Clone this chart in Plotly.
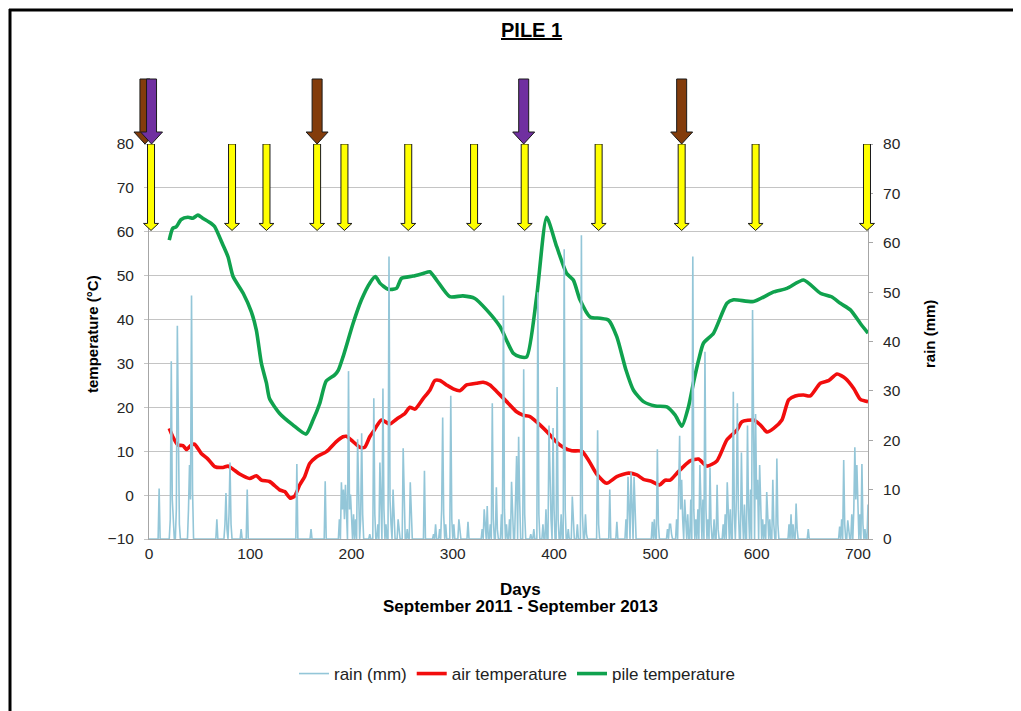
import plotly.graph_objects as go

# ---------------- data ----------------
# days since start of monitoring (September 2011)
air_day = [20, 23.5, 28.5, 33.5, 37, 41.7, 45, 51.6, 58.2, 64.8, 73, 78, 83, 89.5, 99.4, 106, 111,
           119, 129, 134, 139.6, 143.9, 148.8, 153.7, 158.7, 165.3, 175.2, 185, 191.6, 194.9, 201.5,
           208.1, 213, 218, 221.3, 229.6, 237.8, 244.4, 252.7, 257.6, 262.6, 270.7, 277.3, 282.3,
           287.2, 293.8, 300.4, 307, 313.6, 323.5, 330, 336.7, 343.3, 353.2, 363, 369.6, 376.2,
           386.1, 396, 401, 409, 417.4, 427.3, 433.9, 442.1, 452, 461.9, 473.4, 481.7, 488.2,
           496.5, 504.1, 509.7, 514.6, 521.3, 527.8, 534.4, 542.6, 550.9, 560.8, 570.7, 580.6,
           585.5, 597, 603.6, 610.2, 616.8, 625, 631.6, 638.2, 646.4, 653, 662.9, 671.1, 679.4,
           687.6, 695.9, 702.5, 710]
air_temp = [15.2, 13.3, 11.4, 11.3, 10.4, 11.4, 11.6, 9.5, 8.2, 6.5, 6.3, 6.6, 5.9, 4.8, 3.8, 4.4, 3.4,
            3.1, 1.2, 0.8, -0.7, -0.2, 2.3, 4.2, 7.2, 8.7, 9.9, 12.2, 13.3, 13.4, 12.2,
            10.9, 10.9, 13.3, 14.4, 17.1, 16.2, 17.3, 18.6, 20.0, 19.6, 22.0, 23.9, 26.1,
            26.1, 25.1, 24.2, 23.8, 25.1, 25.5, 25.7, 25.1, 23.6, 21.3, 19.0, 18.2, 17.9,
            16.0, 13.7, 12.4, 10.9, 10.1, 10.0, 8.0, 4.8, 2.7, 4.2, 5.0, 4.6, 3.6,
            3.1, 2.3, 3.4, 3.4, 5.0, 6.5, 7.8, 8.2, 6.6, 7.8, 12.6, 14.8,
            16.7, 17.1, 16.0, 14.4, 15.2, 17.1, 21.7, 22.6, 22.8, 22.6, 25.5, 26.1, 27.6,
            26.6, 24.3, 21.8, 21.3]

pile_day = [20, 23.5, 26.8, 31.8, 38.4, 43.3, 48.3, 53, 61.5, 64.8, 73, 78, 83, 93, 101, 106, 111,
            116, 119, 129, 142, 155, 162, 168.6, 175, 183.4, 187, 191.6, 201.5, 209.8, 218, 223.6,
            228, 236, 244.4, 249.4, 260.8, 270.7, 277.3, 284, 297, 310, 321.8, 333.4, 346.6,
            359.7, 366.3, 373, 382.8, 392.7, 402.6, 412.5, 419, 425.6, 435.5, 445.4, 453.6,
            461.9, 471, 478.4, 488.3, 500, 511.4, 519.6, 526.2, 532.7, 538, 543, 547.5, 557.5,
            570.7, 577.2, 597, 616.8, 630, 646.4, 663, 674, 682.7, 692.6, 702.5, 710]
pile_temp = [58.1, 60.8, 61.1, 62.8, 63.3, 63.1, 63.8, 63.1, 61.9, 61.2, 57.0, 54.3, 49.8, 46.0, 41.8, 37.6, 30.0,
             25.5, 22.0, 18.6, 16.0, 13.9, 17.1, 20.9, 26.0, 27.4, 28.5, 31.5, 39.1, 44.5, 48.3, 49.8,
             48.3, 46.9, 47.1, 49.4, 49.9, 50.5, 50.9, 49.0, 45.2, 45.4, 44.8, 42.2, 38.4,
             32.3, 31.5, 31.5, 45.2, 63.3, 56.6, 50.5, 49.0, 44.5, 40.6, 40.3, 39.9,
             36.1, 28.5, 23.9, 21.3, 20.3, 20.1, 18.2, 15.7, 20.1, 26.0, 31.0, 34.6, 36.9,
             43.7, 44.5, 44.1, 46.3, 47.1, 49.0, 46.0, 45.2, 43.7, 42.2, 39.1, 36.9]

# daily rainfall: only rainy days listed, all other days are dry (0 mm)
rain_event_day = [10, 21, 22, 23, 24, 27, 28, 29, 30, 39, 40, 41, 42, 43,
                  67, 75, 76, 77, 79, 80, 81, 91, 97, 146, 160, 174,
                  188, 190, 191, 192, 193, 194, 195, 197, 198, 199, 200, 202, 204, 206, 207, 209, 210, 211,
                  218, 222, 223, 226, 228, 229, 231, 232, 234, 237, 238, 239, 241, 242, 246, 247,
                  251, 252, 255, 258, 259, 272, 281, 283, 287, 289, 290, 291, 293, 298, 299, 301,
                  306, 307, 315, 329, 331, 332, 334, 337, 339, 340, 343, 344, 348, 350, 351, 353,
                  356, 358, 359, 362, 363, 365, 366, 370, 371, 377, 380, 384, 385,
                  389, 392, 395, 396, 397, 399, 400, 403, 404, 407, 410, 411, 414, 418, 419, 423,
                  427, 428, 431, 432, 443, 444, 455, 462, 471, 473, 474, 476, 477, 479, 480,
                  497, 499, 502, 503, 512, 514, 515, 516, 521, 523, 524, 525, 526, 527, 529, 530, 532,
                  535, 537, 538, 540, 542, 544, 545, 547, 549, 550, 552, 554, 555, 558, 561, 562,
                  567, 569, 571, 572, 574, 577, 578, 580, 581, 582, 585, 586, 588, 591, 592, 594,
                  596, 597, 599, 600, 601, 603, 604, 606, 608, 610, 611, 613, 616, 617, 620, 621,
                  632, 634, 636, 639, 640, 651, 682, 684, 686, 687, 690, 691, 694, 696, 697, 698,
                  699, 700, 702, 704, 705, 707, 710]
rain_event_mm = [10.2, 4, 36, 8, 2, 6, 43.2, 12, 3, 6, 15, 8, 49.3, 10,
                 4, 3, 9.3, 2, 5, 15.5, 3, 2, 10, 15.2, 2, 11.7,
                 4, 11.5, 6, 10, 4, 11, 3, 34, 6, 9, 3, 5, 4, 20.2, 6, 4, 21.4, 5,
                 1, 28.5, 5, 3, 15.5, 4, 30.5, 6, 3, 57.2, 8, 3, 10, 3, 4, 2,
                 18.4, 4, 2, 11.5, 3, 13.8, 1, 3, 2, 6, 24.6, 5, 3, 29, 4, 3,
                 4, 1, 3.5, 2, 6, 3, 6.7, 3, 27.5, 4, 10.5, 2, 5, 49.3, 6, 3,
                 4, 11.6, 3, 10, 16.8, 20.7, 8, 34.4, 5, 1, 2, 50, 5,
                 3, 6, 23, 9, 4, 22.5, 6, 30.8, 4, 5, 58.7, 6, 2, 8.6, 2, 3,
                 61.5, 5, 5, 1, 22, 3, 10, 3.5, 4, 12.6, 6, 13.5, 5, 12.6, 3,
                 3.5, 4, 18.2, 3, 2, 3, 3, 1, 4, 10, 20.9, 6, 12, 4, 8, 3, 5,
                 8, 57.2, 6, 4, 6, 15, 5, 8, 37.9, 6, 4, 14.5, 3, 4, 11, 2,
                 3, 5, 11.5, 4, 6, 29.8, 5, 8, 27.5, 6, 17.5, 5, 7, 23, 6, 10,
                 46.4, 12, 25.3, 8, 12, 15, 5, 4, 3, 9.5, 2, 4, 12, 3, 16.3, 3,
                 3, 5, 3, 7.2, 2, 2, 2.5, 4, 16, 3, 3.8, 2, 5, 6, 18.6, 8,
                 15, 4, 5, 15.2, 3, 2, 7]

# management events (days): turning / watering markers drawn as arrows
yellow_arrow_days = [2, 82, 116, 166, 193, 256, 321, 371, 444, 526, 599, 709]
brown_arrow_days = [-4, 166, 526]
purple_arrow_days = [2.5, 370]

x_tick_vals = [0, 100, 200, 300, 400, 500, 600, 700]
temp_tick_vals = [-10, 0, 10, 20, 30, 40, 50, 60, 70, 80]
rain_tick_vals = [0, 10, 20, 30, 40, 50, 60, 70, 80]

X_RANGE = [0, 710]
TEMP_RANGE = [-10, 80]
RAIN_RANGE = [0, 80]

# ---------------- figure ----------------
W, H = 1021, 711
M_L, M_R, M_T, M_B = 149, 153, 144, 172
PLOT_W = W - M_L - M_R
PLOT_H = H - M_T - M_B

rain_lookup = dict(zip(rain_event_day, rain_event_mm))
rain_days = list(range(X_RANGE[0], X_RANGE[1] + 1))
rain_vals = [rain_lookup.get(d, 0) for d in rain_days]

FONT = "Liberation Sans, Arial, sans-serif"

fig = go.Figure()
fig.add_trace(go.Scatter(x=rain_days, y=rain_vals, yaxis="y2", mode="lines",
                         name="rain (mm)", line=dict(color="#93c6d8", width=1.6)))
fig.add_trace(go.Scatter(x=air_day, y=air_temp, mode="lines", name="air temperature",
                         line=dict(color="#f20d0d", width=3.6, shape="spline", smoothing=0.6)))
fig.add_trace(go.Scatter(x=pile_day, y=pile_temp, mode="lines", name="pile temperature",
                         line=dict(color="#10a24e", width=3.6, shape="spline", smoothing=0.6)))


def x_paper(day):
    return (day - X_RANGE[0]) / (X_RANGE[1] - X_RANGE[0])


def px_x(px):
    return (px - M_L) / PLOT_W


def px_y(py):
    return (H - M_B - py) / PLOT_H


shapes = []
# yellow arrows between 80 and 60 on the temperature axis
for d in yellow_arrow_days:
    shapes.append(dict(
        type="path", xref="paper", yref="y", xsizemode="pixel", xanchor=x_paper(d),
        path="M -3.5,80 L 3.5,80 L 3.5,61.9 L 7.5,61.9 L 0,60.3 L -7.5,61.9 L -3.5,61.9 Z",
        fillcolor="#ffff00", line=dict(color="#1a1a1a", width=1), layer="above"))

big_arrow = "M -5,65 L 5,65 L 5,12 L 11,12 L 0,0 L -11,12 L -5,12 Z"
for days, colour in ((brown_arrow_days, "#833c0b"), (purple_arrow_days, "#7030a0")):
    for d in days:
        shapes.append(dict(
            type="path", xref="paper", yref="paper", xsizemode="pixel", ysizemode="pixel",
            xanchor=x_paper(d), yanchor=1.0, path=big_arrow,
            fillcolor=colour, line=dict(color="#1a1a1a", width=1), layer="above"))

# page frame (left and top edges)
shapes.append(dict(type="line", xref="paper", yref="paper",
                   x0=px_x(10), x1=px_x(10), y0=px_y(9), y1=px_y(715),
                   line=dict(color="black", width=3)))
shapes.append(dict(type="line", xref="paper", yref="paper",
                   x0=px_x(9), x1=px_x(1013), y0=px_y(10), y1=px_y(10),
                   line=dict(color="black", width=3)))

annotations = [
    dict(text="<b><u>PILE 1</u></b>", x=px_x(531), y=px_y(30), xref="paper", yref="paper",
         xanchor="center", yanchor="middle", showarrow=False,
         font=dict(size=20, color="black", family=FONT)),
    dict(text="<b>temperature (°C)</b>", x=px_x(92), y=px_y(334), xref="paper", yref="paper",
         xanchor="center", yanchor="middle", textangle=-90, showarrow=False,
         font=dict(size=15, color="black", family=FONT)),
    dict(text="<b>rain (mm)</b>", x=px_x(929), y=px_y(334), xref="paper", yref="paper",
         xanchor="center", yanchor="middle", textangle=-90, showarrow=False,
         font=dict(size=15, color="black", family=FONT)),
    dict(text="<b>Days</b>", x=px_x(520), y=px_y(589), xref="paper", yref="paper",
         xanchor="center", yanchor="middle", showarrow=False,
         font=dict(size=17, color="black", family=FONT)),
    dict(text="<b>September 2011 - September 2013</b>", x=px_x(520), y=px_y(606),
         xref="paper", yref="paper", xanchor="center", yanchor="middle", showarrow=False,
         font=dict(size=17, color="black", family=FONT)),
]

tick_font = dict(size=15.5, color="#262626", family=FONT)

fig.update_layout(
    width=W, height=H,
    margin=dict(l=M_L, r=M_R, t=M_T, b=M_B),
    paper_bgcolor="white", plot_bgcolor="white",
    font=dict(family=FONT, color="#222"),
    showlegend=True,
    legend=dict(orientation="h", x=px_x(517), y=px_y(674), xanchor="center", yanchor="middle",
                font=dict(size=17, color="#222", family=FONT), bgcolor="rgba(0,0,0,0)",
                itemwidth=30, tracegroupgap=0),
    xaxis=dict(range=X_RANGE, tickvals=x_tick_vals, showgrid=False, zeroline=False,
               showline=True, linecolor="#a6a6a6", linewidth=1, ticks="",
               tickfont=tick_font),
    yaxis=dict(range=TEMP_RANGE, tickvals=temp_tick_vals, showgrid=True, gridcolor="#c4c4c4",
               gridwidth=1, zeroline=False, showline=True, linecolor="#a6a6a6", linewidth=1,
               ticks="outside", ticklen=4, tickcolor="#c4c4c4", ticklabelstandoff=7,
               tickfont=tick_font),
    yaxis2=dict(range=RAIN_RANGE, tickvals=rain_tick_vals, overlaying="y", side="right",
                showgrid=False, zeroline=False, showline=True, linecolor="#a6a6a6", linewidth=1,
                ticks="outside", ticklen=4, tickcolor="#a6a6a6", ticklabelstandoff=7,
                tickfont=tick_font),
    shapes=shapes,
    annotations=annotations,
)

fig.write_html("out.html")
